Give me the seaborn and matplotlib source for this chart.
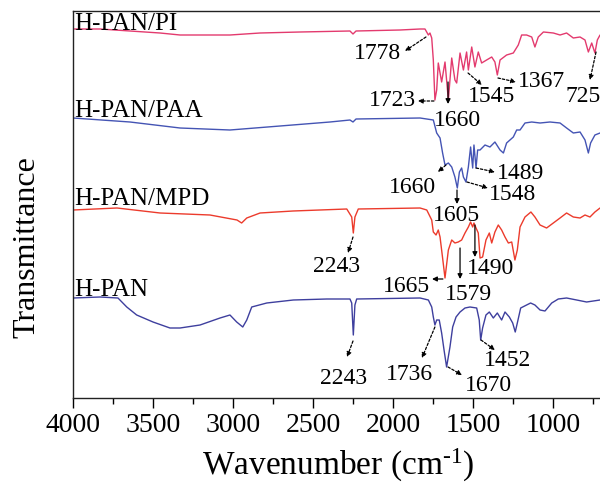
import matplotlib
matplotlib.use("Agg")
import matplotlib.pyplot as plt
import seaborn as sns
import numpy as np

# ---------------- data (wavenumber, offset transmittance in a.u.) ----------------
pi_wn = [4000, 3831, 3644, 3456, 3331, 3019, 2831, 2581, 2269, 2250, 2231, 1956, 1831,
         1800, 1779, 1769, 1758, 1748, 1738, 1727, 1717, 1696, 1675, 1654, 1633, 1613,
         1602, 1581, 1560, 1540, 1529, 1508, 1488, 1467, 1446, 1415, 1383, 1363, 1348,
         1331, 1290, 1248, 1217, 1196, 1165, 1133, 1113, 1092, 1060, 998, 956, 915, 873,
         831, 800, 779, 758, 738, 723, 706]
pi_t = [369, 369, 367, 365, 363, 363, 365, 366, 367, 364, 367, 368, 369,
        369, 363, 365, 360, 338, 298, 308, 335, 316, 336, 298, 340, 318,
        315, 345, 328, 346, 328, 351, 331, 346, 335, 338, 341, 336, 323,
        338, 343, 345, 353, 363, 363, 361, 351, 361, 366, 365, 363, 365, 360,
        361, 358, 346, 355, 345, 358, 363]

paa_wn = [4000, 3644, 3331, 3019, 2706, 2394, 2269, 2250, 2231, 1831, 1748, 1727, 1706,
          1690, 1675, 1654, 1633, 1613, 1598, 1585, 1571, 1560, 1544, 1529, 1515, 1502,
          1494, 1481, 1471, 1456, 1425, 1394, 1363, 1331, 1310, 1290, 1248, 1227, 1206,
          1175, 1133, 1081, 1019, 956, 915, 873, 831, 800, 779, 765, 738, 706]
paa_t = [280, 276, 270, 268, 272, 276, 278, 276, 279, 280, 278, 265, 260,
         245, 233, 235, 231, 221, 210, 226, 230, 221, 216, 231, 251, 230,
         253, 230, 248, 248, 253, 251, 256, 248, 245, 255, 261, 268, 268,
         275, 276, 275, 276, 275, 270, 265, 266, 258, 245, 255, 263, 265]

mpd_wn = [4000, 3725, 3456, 3144, 2975, 2946, 2914, 2831, 2625, 2289, 2258, 2248, 2238,
          2217, 1831, 1789, 1758, 1748, 1731, 1717, 1706, 1690, 1675, 1654, 1633, 1613,
          1592, 1571, 1550, 1529, 1515, 1502, 1494, 1481, 1467, 1456, 1440, 1419, 1398,
          1383, 1363, 1342, 1321, 1300, 1279, 1258, 1238, 1223, 1206, 1175, 1138, 1113,
          1081, 1040, 998, 956, 915, 873, 831, 800, 769, 738, 706]
mpd_t = [188, 190, 185, 183, 178, 175, 180, 185, 187, 189, 181, 165, 181,
         189, 190, 188, 178, 166, 163, 168, 161, 140, 120, 148, 158, 155,
         156, 158, 165, 171, 176, 171, 175, 170, 165, 140, 141, 158, 165,
         155, 166, 173, 168, 161, 155, 156, 138, 148, 171, 181, 186, 181,
         173, 170, 175, 180, 185, 181, 180, 183, 181, 186, 190]

pan_wn = [4000, 3831, 3719, 3664, 3602, 3500, 3394, 3331, 3206, 3081, 3019, 2977, 2939,
          2914, 2883, 2789, 2623, 2414, 2269, 2258, 2248, 2238, 2227, 1831, 1779, 1758,
          1748, 1738, 1727, 1711, 1696, 1681, 1665, 1644, 1627, 1606, 1581, 1550, 1519,
          1477, 1461, 1452, 1440, 1419, 1398, 1373, 1348, 1321, 1300, 1273, 1252, 1236,
          1223, 1202, 1165, 1140, 1113, 1081, 1050, 1008, 967, 915, 852, 790, 706]
pan_t = [100, 101, 100, 91, 83, 76, 70, 70, 73, 80, 83, 76, 71,
         78, 91, 95, 98, 99, 99, 95, 63, 93, 99, 100, 98, 91,
         81, 73, 78, 78, 65, 48, 31, 51, 71, 81, 86, 90, 91,
         90, 78, 58, 70, 83, 86, 80, 85, 78, 86, 81, 75, 66,
         75, 90, 93, 95, 93, 88, 87, 95, 99, 100, 98, 96, 98]

series_names = ["H-PAN/PI", "H-PAN/PAA", "H-PAN/MPD", "H-PAN"]
series_colors = ["#E33A6E", "#4454B4", "#EC3B2C", "#3E3F9E"]
label_base = [368, 281, 193, 102]

# peak annotations: label, text (wn, y), arrow tail (wn, y), arrow head (wn, y), solid?
peak_labels = ["1778", "1723", "1660", "1545", "1367", "725",
               "1660", "1605", "1489", "1548",
               "2243", "1665", "1579", "1490",
               "2243", "1736", "1670", "1452"]
peak_text = [(2094, 344), (2006, 297), (1594, 277), (1381, 301), (1075, 316), (813, 301),
             (1881, 210), (1606, 182), (1200, 224), (1250, 203),
             (2350, 131), (1913, 111), (1531, 103), (1388, 129),
             (2312, 20), (1894, 23), (1406, 13), (1281, 38)]
peak_tail = [(1794, 361), (1744, 297), (1656, 316), (1531, 325), (1344, 320), (731, 346),
             (1669, 233), (1600, 208), (1481, 230), (1538, 216),
             (2250, 161), (1688, 119), (1581, 150), (1488, 173),
             (2250, 57), (1738, 71), (1656, 31), (1450, 58)]
peak_head = [(1925, 347), (1844, 297), (1656, 294), (1444, 313), (1231, 316), (769, 318),
             (1719, 226), (1600, 194), (1363, 226), (1406, 210),
             (2281, 145), (1756, 119), (1581, 119), (1488, 141),
             (2287, 41), (1819, 40), (1569, 23), (1363, 48)]
peak_solid = [False, False, True, False, False, False,
              False, True, False, False,
              False, True, True, True,
              False, False, False, False]

xticks_major = [4000, 3500, 3000, 2500, 2000, 1500, 1000]

# ---------------- styling ----------------
sns.set_style("ticks")
plt.rcParams["font.family"] = ["Liberation Serif", "DejaVu Serif"]
plt.rcParams["mathtext.fontset"] = "custom"
plt.rcParams["mathtext.rm"] = "Liberation Serif"
plt.rcParams["mathtext.it"] = "Liberation Serif:italic"
plt.rcParams["text.color"] = "black"
plt.rcParams["axes.labelcolor"] = "black"
plt.rcParams["xtick.color"] = "black"

fig = plt.figure(figsize=(6.0, 4.9), dpi=100)
ax = fig.add_axes([73 / 600, 92 / 490, 530 / 600, 387 / 490])

all_wn = [pi_wn, paa_wn, mpd_wn, pan_wn]
all_t = [pi_t, paa_t, mpd_t, pan_t]
for wn, t, c in zip(all_wn, all_t, series_colors):
    sns.lineplot(x=wn, y=t, ax=ax, color=c, lw=1.0, sort=False, estimator=None)

for name, yb in zip(series_names, label_base):
    ax.text(3994, yb, name, fontsize=18, ha="left", va="baseline", color="black")

for lab, tp, tl, hd, solid in zip(peak_labels, peak_text, peak_tail, peak_head, peak_solid):
    ax.text(tp[0], tp[1], lab, fontsize=17, ha="center", va="center", color="black")
    ax.annotate("", xy=hd, xytext=tl,
                arrowprops=dict(arrowstyle="-|>", color="black", lw=0.9,
                                linestyle="-" if solid else (0, (2.0, 1.5)),
                                mutation_scale=7, shrinkA=0, shrinkB=0))

ax.set_xlim(4000, 687.5)
ax.set_ylim(0, 387)
ax.set_xticks(xticks_major)
ax.set_xticks(np.arange(3750, 700, -500), minor=True)
ax.set_yticks([])
ax.tick_params(axis="x", which="major", direction="out", length=7, width=1.0,
               labelsize=20, pad=4, top=False, colors="black")
ax.tick_params(axis="x", which="minor", direction="out", length=4, width=1.0, top=False,
               colors="black")
for s in ["left", "bottom", "top"]:
    ax.spines[s].set_visible(True)
    ax.spines[s].set_linewidth(1.0)
    ax.spines[s].set_color("#222222")
ax.spines["right"].set_visible(False)

ax.set_xlabel(r"Wavenumber (cm$^{\text{-}1}$)", fontsize=24, labelpad=6)
ax.set_ylabel("Transmittance", fontsize=23)
ax.yaxis.set_label_coords(-0.06, 0.39)

fig.savefig("out.png", dpi=100)
